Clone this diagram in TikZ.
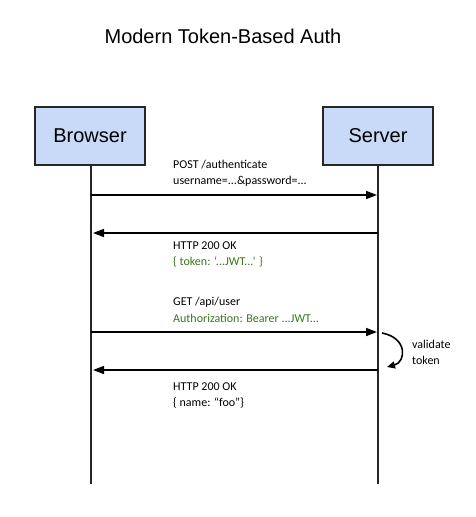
\documentclass[tikz,border=0pt]{standalone}
\usepackage{fontspec}
\setmainfont{Liberation Sans}
\newfontfamily\lblfont{Carlito}
\usetikzlibrary{arrows.meta}
\definecolor{boxfill}{HTML}{C9DAF8}
\definecolor{codegreen}{HTML}{38761D}
\begin{document}
\begin{tikzpicture}[x=1pt,y=-1pt,
  actor/.style={draw=black!85,line width=1.6pt,fill=boxfill,minimum width=110pt,minimum height=58pt,font=\fontsize{20}{24}\selectfont,inner sep=0pt},
  life/.style={line width=1.6pt,black!85},
  msg/.style={line width=1.6pt,-{Triangle[length=11pt,width=8pt]}},
  lbl/.style={anchor=west,align=left,font=\lblfont\fontsize{12}{16}\selectfont,inner sep=0pt},
  grn/.style={text=codegreen}]
\useasboundingbox (0,0) rectangle (476,517);
\node[font=\fontsize{20}{24}\selectfont] (title) at (223,36) {Modern Token-Based Auth};
\node[actor] (browser) at (90,136) {Browser};
\node[actor] (server) at (378,136) {Server};
\coordinate (bend) at (91,484);
\coordinate (send) at (378,484);
\draw[life] (browser.south -| bend) -- (bend);
\draw[life] (server.south -| send) -- (send);
% message 1
\coordinate (b1) at (91,195); \coordinate (s1) at (377,195);
\draw[msg] (b1) -- (s1);
\node[lbl] (l1a) at (173,165) {POST /authenticate};
\node[lbl] (l1b) at (173,181) {username=...\&password=...};
% message 2
\coordinate (b2) at (93,233); \coordinate (s2) at (378,233);
\draw[msg] (s2) -- (b2);
\node[lbl] (l2a) at (173,246) {HTTP 200 OK};
\node[lbl,grn] (l2b) at (173,262) {\{ token: ‘...JWT...’ \}};
% message 3
\coordinate (b3) at (91,332); \coordinate (s3) at (377,332);
\draw[msg] (b3) -- (s3);
\node[lbl] (l3a) at (173,302) {GET /api/user};
\node[lbl,grn] (l3b) at (173,318) {Authorization: Bearer ...JWT...};
% validate
\coordinate (v1) at (382,333); \coordinate (v2) at (387,367);
\draw[line width=1.6pt,-{Triangle[length=8pt,width=7pt]}] (v1) .. controls (408,338) and (406,362) .. (v2);
\node[lbl] (vt) at (412,352) {validate\\token};
% message 4
\coordinate (b4) at (93,370); \coordinate (s4) at (378,370);
\draw[msg] (s4) -- (b4);
\node[lbl] (l4a) at (173,387) {HTTP 200 OK};
\node[lbl] (l4b) at (173,403) {\{ name: “foo”\}};
\end{tikzpicture}
\end{document}
